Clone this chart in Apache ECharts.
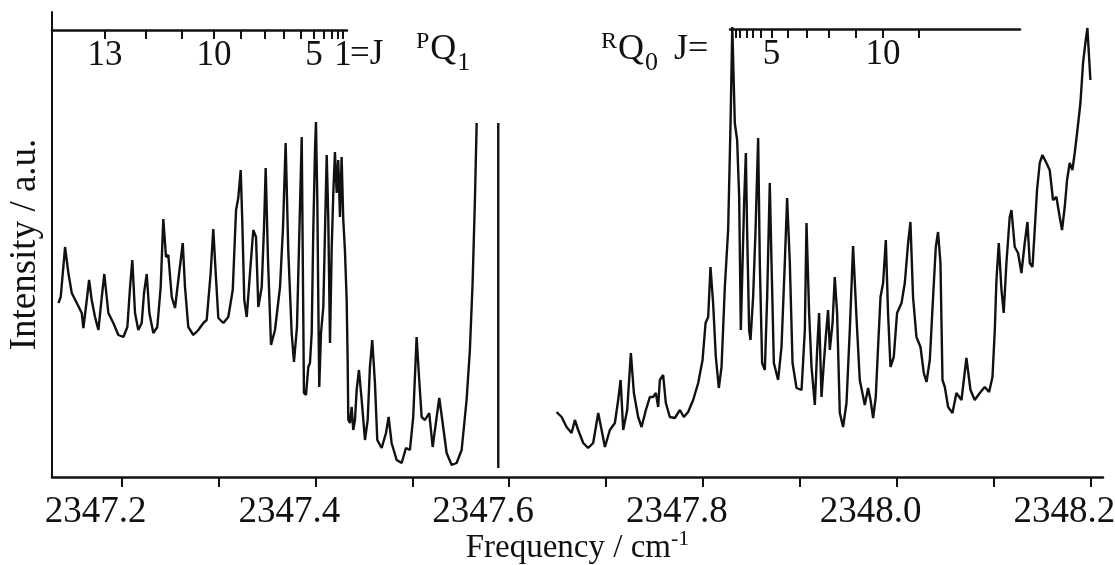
<!DOCTYPE html>
<html>
<head>
<meta charset="utf-8">
<script src="https://cdn.jsdelivr.net/npm/echarts@6/dist/echarts.min.js"></script>
<style>
html,body{margin:0;padding:0;background:#fff;}
#chart{width:1115px;height:565px;}
</style>
</head>
<body>
<div id="chart"></div>
<script>
// ---- data (frequency in cm-1, intensity in arbitrary units) ----
const leftFreq = [2347.1346,2347.1370,2347.1415,2347.1449,2347.1484,2347.1536,2347.1587,2347.1604,2347.1639,2347.1663,
2347.1690,2347.1724,2347.1759,2347.1794,2347.1820,2347.1862,2347.1913,2347.1965,2347.2017,2347.2058,
2347.2086,2347.2109,2347.2137,2347.2171,2347.2206,2347.2230,2347.2258,2347.2285,2347.2326,2347.2367,
2347.2402,2347.2429,2347.2457,2347.2481,2347.2516,2347.2550,2347.2584,2347.2630,2347.2653,2347.2687,
2347.2739,2347.2791,2347.2842,2347.2877,2347.2918,2347.2945,2347.2970,2347.2997,2347.3049,2347.3100,
2347.3146,2347.3180,2347.3203,2347.3228,2347.3245,2347.3265,2347.3290,2347.3324,2347.3358,2347.3386,
2347.3410,2347.3445,2347.3469,2347.3486,2347.3510,2347.3541,2347.3582,2347.3634,2347.3665,2347.3692,
2347.3719,2347.3754,2347.3778,2347.3809,2347.3835,2347.3858,2347.3881,2347.3902,2347.3926,2347.3943,
2347.3961,2347.3977,2347.3995,2347.4005,2347.4019,2347.4029,2347.4039,2347.4057,2347.4081,2347.4098,
2347.4116,2347.4132,2347.4150,2347.4167,2347.4184,2347.4201,2347.4219,2347.4235,2347.4253,2347.4270,
2347.4287,2347.4304,2347.4322,2347.4332,2347.4339,2347.4356,2347.4374,2347.4390,2347.4408,2347.4425,
2347.4449,2347.4477,2347.4511,2347.4539,2347.4562,2347.4586,2347.4614,2347.4638,2347.4683,2347.4728,
2347.4755,2347.4786,2347.4838,2347.4890,2347.4934,2347.4975,2347.5009,2347.5044,2347.5071,2347.5096,
2347.5130,2347.5174,2347.5210,2347.5251,2347.5278,2347.5313,2347.5354,2347.5406,2347.5457,2347.5509,
2347.5560,2347.5594,2347.5622,2347.5646,2347.5664];
const leftInt = [174,180,230,204,184,174,164,149,177,197,
177,160,147,180,203,164,154,142,140,150,
190,217,164,147,154,184,203,164,144,150,
190,258,220,222,180,169,197,234,190,150,
142,147,154,157,204,248,204,159,154,160,
187,267,279,307,254,177,160,204,247,240,
170,190,250,309,217,132,147,190,250,334,
227,144,115,150,250,340,84,82,110,114,
144,244,327,355,277,177,90,144,170,244,
322,260,134,227,284,325,284,317,260,320,
257,227,177,117,57,54,70,47,57,87,
107,77,37,57,110,137,94,37,29,44,
60,34,17,14,29,27,60,140,97,60,
57,64,30,60,79,54,24,12,14,27,
77,127,194,277,354];

const spikeFreq = [2347.5887,2347.5887];
const spikeInt = [354,9];

const rightFreq = [2347.6489,2347.6541,2347.6592,2347.6644,2347.6678,2347.6712,2347.6764,2347.6815,2347.6867,2347.6919,
2347.6954,2347.6988,2347.7039,2347.7091,2347.7125,2347.7150,2347.7177,2347.7218,2347.7256,2347.7287,
2347.7331,2347.7366,2347.7411,2347.7452,2347.7486,2347.7514,2347.7538,2347.7555,2347.7589,2347.7617,
2347.7658,2347.7710,2347.7762,2347.7803,2347.7847,2347.7899,2347.7951,2347.7996,2347.8027,2347.8054,
2347.8078,2347.8105,2347.8133,2347.8164,2347.8192,2347.8226,2347.8260,2347.8285,2347.8303,2347.8329,
2347.8353,2347.8374,2347.8391,2347.8409,2347.8425,2347.8443,2347.8456,2347.8477,2347.8491,2347.8518,
2347.8543,2347.8570,2347.8587,2347.8611,2347.8639,2347.8663,2347.8690,2347.8708,2347.8732,2347.8776,
2347.8811,2347.8845,2347.8869,2347.8897,2347.8925,2347.8966,2347.9018,2347.9052,2347.9069,2347.9096,
2347.9121,2347.9155,2347.9179,2347.9199,2347.9224,2347.9248,2347.9268,2347.9292,2347.9310,2347.9338,
2347.9361,2347.9385,2347.9413,2347.9447,2347.9482,2347.9516,2347.9550,2347.9585,2347.9619,2347.9671,
2347.9705,2347.9730,2347.9757,2347.9784,2347.9808,2347.9833,2347.9860,2347.9888,2347.9911,2347.9936,
2347.9970,2348.0004,2348.0050,2348.0084,2348.0118,2348.0142,2348.0169,2348.0204,2348.0246,2348.0280,
2348.0308,2348.0342,2348.0376,2348.0404,2348.0427,2348.0452,2348.0473,2348.0497,2348.0531,2348.0576,
2348.0617,2348.0669,2348.0720,2348.0762,2348.0806,2348.0858,2348.0909,2348.0954,2348.0989,2348.1013,
2348.1030,2348.1054,2348.1082,2348.1105,2348.1133,2348.1167,2348.1185,2348.1219,2348.1253,2348.1288,
2348.1322,2348.1350,2348.1374,2348.1402,2348.1425,2348.1449,2348.1477,2348.1505,2348.1546,2348.1580,
2348.1614,2348.1649,2348.1683,2348.1707,2348.1735,2348.1759,2348.1786,2348.1814,2348.1838,2348.1866,
2348.1897,2348.1924,2348.1948,2348.1969,2348.1986,2348.2000];
const rightInt = [65,60,50,44,57,47,34,29,34,64,
47,30,47,54,77,97,47,67,124,84,
60,50,67,80,80,84,70,97,102,74,
60,59,67,60,65,77,94,117,154,160,
210,174,120,89,110,190,247,354,450,354,
337,280,147,214,274,324,247,147,137,180,
247,339,214,114,107,180,294,214,114,97,
130,214,279,214,114,89,87,147,254,164,
110,72,127,164,80,114,140,167,127,154,
200,164,64,50,74,147,231,160,97,72,
89,77,59,80,130,180,194,237,164,110,
120,164,174,194,234,255,180,140,130,104,
95,117,180,230,245,214,97,90,70,64,
84,77,119,87,77,84,90,85,100,147,
197,234,187,164,214,260,267,230,224,204,
234,255,214,210,247,287,314,322,314,307,
277,280,260,247,270,297,314,307,324,347,
374,414,434,449,420,397];

// bottom frequency axis
const freqTicks = [2347.2,2347.3,2347.4,2347.5,2347.6,2347.7,2347.8,2347.9,2348.0,2348.1,2348.2];
const freqLabels = [2347.2,2347.4,2347.6,2347.8,2348.0,2348.2];
const freqMin = 2347.128, freqMax = 2348.213;

// PQ1 J scale (top left)
const pqFreq = [2347.1828,2347.2251,2347.2622,2347.2953,2347.3231,2347.3479,2347.3675,2347.3850,2347.3985,2347.4088,2347.4170,2347.4232,2347.4284];
const pqJ = [13,12,11,10,9,8,7,6,5,4,3,2,1];
const pqLabelJ = [13,10,5,1];
const pqMax = 2347.4325;

// RQ0 J scale (top right)
const rqFreq = [2347.8334,2347.8381,2347.8448,2347.8515,2347.8598,2347.8706,2347.8876,2347.9072,2347.9299,2347.9578,2347.9857,2348.0228];
const rqJ = [0,1,2,3,4,5,6,7,8,9,10,11];
const rqLabelJ = [5,10];
const rqMin = 2347.8278, rqMax = 2348.1270;

// ---- chart ----
const FONT = 'Liberation Serif';
const zip = (a, b) => a.map((v, i) => [v, b[i]]);
const lineSeries = (data) => ({
  type: 'line', xAxisIndex: 0, yAxisIndex: 0, data: data,
  showSymbol: false, symbol: 'none', silent: true, animation: false,
  lineStyle: { color: '#111', width: 2.4 }
});
const labelRich = {
  sup: { fontFamily: FONT, fontSize: 24, fill: '#111', verticalAlign: 'bottom', padding: [0, 1, 22, 0] },
  main: { fontFamily: FONT, fontSize: 36, fill: '#111', verticalAlign: 'bottom', padding: [0, 0, 8, 0] },
  sub: { fontFamily: FONT, fontSize: 26, fill: '#111', verticalAlign: 'bottom', padding: [0, 0, 0, 1] },
  j: { fontFamily: FONT, fontSize: 36, fill: '#111', verticalAlign: 'bottom', padding: [0, 0, 8, 16] }
};

const chart = echarts.init(document.getElementById('chart'), null, { renderer: 'canvas' });
chart.setOption({
  backgroundColor: '#fff',
  animation: false,
  grid: [
    { left: 52, right: 12, top: 12, bottom: 88, outerBoundsMode: 'none', containLabel: false },
    { left: 52, width: 295, top: 28, height: 2, outerBoundsMode: 'none', containLabel: false },
    { left: 730, width: 290, top: 27, height: 2, outerBoundsMode: 'none', containLabel: false }
  ],
  xAxis: [
    {
      gridIndex: 0, type: 'value', min: freqMin, max: freqMax,
      axisLine: { show: true, lineStyle: { color: '#111', width: 2.5 } },
      axisTick: { show: true, length: 10, customValues: freqTicks, lineStyle: { color: '#111', width: 2 } },
      axisLabel: {
        show: true, customValues: freqLabels, margin: 17,
        formatter: v => v.toFixed(1),
        fontFamily: FONT, fontSize: 37, color: '#111', padding: [0, 52, 0, 0]
      },
      splitLine: { show: false },
      name: 'Frequency / cm{sup|-1}', nameLocation: 'middle', nameGap: 51, nameMoveOverlap: false,
      nameTextStyle: {
        fontFamily: FONT, fontSize: 33, color: '#111',
        rich: { sup: { fontFamily: FONT, fontSize: 22, color: '#111', padding: [0, 0, 18, 0] } }
      }
    },
    {
      gridIndex: 1, type: 'value', position: 'top', min: freqMin, max: pqMax,
      axisLine: { show: true, lineStyle: { color: '#111', width: 2.5 } },
      axisTick: { show: true, inside: true, length: 9, customValues: pqFreq, lineStyle: { color: '#111', width: 2 } },
      axisLabel: {
        show: true, inside: true, margin: 10,
        customValues: pqLabelJ.map(j => pqFreq[pqJ.indexOf(j)]),
        formatter: v => String(pqJ[pqFreq.indexOf(v)]),
        fontFamily: FONT, fontSize: 35, color: '#111'
      },
      splitLine: { show: false }
    },
    {
      gridIndex: 2, type: 'value', position: 'top', min: rqMin, max: rqMax,
      axisLine: { show: true, lineStyle: { color: '#111', width: 2.5 } },
      axisTick: { show: true, inside: true, length: 9, customValues: rqFreq, lineStyle: { color: '#111', width: 2 } },
      axisLabel: {
        show: true, inside: true, margin: 10,
        customValues: rqLabelJ.map(j => rqFreq[rqJ.indexOf(j)]),
        formatter: v => String(rqJ[rqFreq.indexOf(v)]),
        fontFamily: FONT, fontSize: 35, color: '#111'
      },
      splitLine: { show: false }
    }
  ],
  yAxis: [
    {
      gridIndex: 0, type: 'value', min: 0, max: 465,
      axisLine: { show: true, lineStyle: { color: '#111', width: 2 } },
      axisTick: { show: false }, axisLabel: { show: false }, splitLine: { show: false },
      name: 'Intensity / a.u.', nameLocation: 'middle', nameGap: 8, nameRotate: 90,
      nameTextStyle: { fontFamily: FONT, fontSize: 37, color: '#111' }
    },
    { gridIndex: 1, type: 'value', show: false, min: 0, max: 1 },
    { gridIndex: 2, type: 'value', show: false, min: 0, max: 1 }
  ],
  graphic: [
    { type: 'text', left: 350, top: 37, silent: true,
      style: { text: '=J', fontFamily: FONT, fontSize: 35, fill: '#111' } },
    { type: 'text', left: 416, top: 30, silent: true,
      style: { text: '{sup|P}{main|Q}{sub|1}', fill: '#111', rich: labelRich } },
    { type: 'text', left: 601, top: 30, silent: true,
      style: { text: '{sup|R}{main|Q}{sub|0}{j|J=}', fill: '#111', rich: labelRich } }
  ],
  series: [
    lineSeries(zip(leftFreq, leftInt)),
    lineSeries(zip(spikeFreq, spikeInt)),
    lineSeries(zip(rightFreq, rightInt))
  ]
});
</script>
</body>
</html>
